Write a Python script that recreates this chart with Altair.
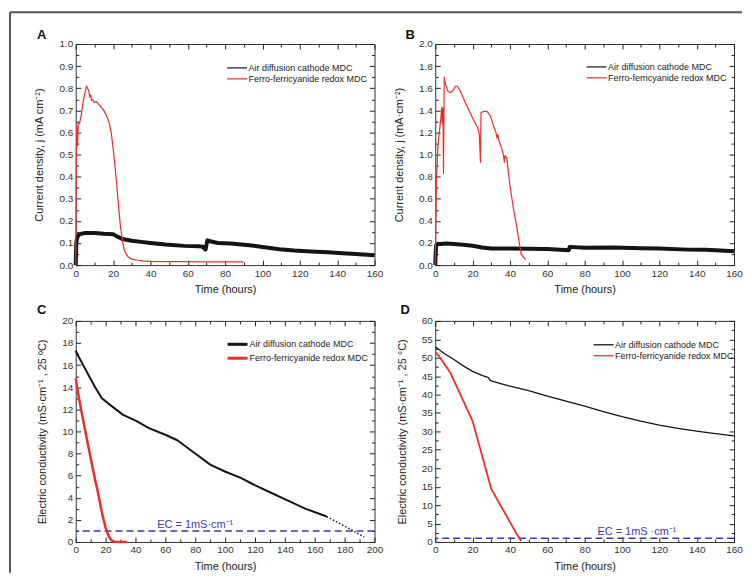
import altair as alt
import pandas as pd

FONT = "Liberation Sans, Arial, Helvetica, sans-serif"
AIR = "Air diffusion cathode MDC"
FERRO = "Ferro-ferricyanide redox MDC"
SERIES = [AIR, FERRO]
COLORS = ["#141414", "#ee2c2c"]
EC_COLOR = "#3a3ab4"

# ---------------- Panel A : current density ----------------
A_air_t = [0, 0.3, 0.8, 2, 5, 10, 15, 20, 22, 25, 30, 35, 40, 48, 58, 66, 68, 69.5, 70.5, 72, 76, 83, 93,
           100, 109, 117, 126, 135, 143, 150, 156, 160]
A_air_v = [0.0, 0.10, 0.125, 0.14, 0.145, 0.145, 0.142, 0.14, 0.13, 0.118, 0.11, 0.105, 0.10, 0.093, 0.087,
           0.085, 0.083, 0.07, 0.112, 0.108, 0.10, 0.098, 0.09, 0.082, 0.072, 0.066, 0.062, 0.058, 0.054,
           0.05, 0.047, 0.045]
A_red_t = [0, 0.3, 0.5, 0.8, 1.0, 1.3, 2, 3, 4, 5, 5.7, 6.3, 7, 7.5, 8, 8.5, 9, 10, 11, 12, 13, 14, 15, 16,
           17, 18, 19, 20, 21, 22, 23, 24, 25, 26, 27, 28, 30, 33, 36, 40, 50, 60, 70, 80, 90]
A_red_v = [0.0, 0.5, 0.63, 0.60, 0.54, 0.64, 0.64, 0.68, 0.74, 0.78, 0.81, 0.80, 0.79, 0.76, 0.77, 0.745,
           0.75, 0.735, 0.74, 0.73, 0.72, 0.71, 0.70, 0.685, 0.665, 0.64, 0.60, 0.53, 0.45, 0.36, 0.26, 0.17,
           0.11, 0.07, 0.05, 0.038, 0.027, 0.022, 0.019, 0.017, 0.016, 0.016, 0.015, 0.015, 0.015]

# ---------------- Panel B : current density ----------------
B_air_t = [0, 0.2, 0.5, 1, 3, 6, 10, 15, 20, 25, 30, 40, 50, 60, 71.5, 72, 80, 95, 110, 120, 135, 145, 155, 160]
B_air_v = [0, 0.1, 0.18, 0.19, 0.19, 0.195, 0.19, 0.185, 0.175, 0.16, 0.15, 0.15, 0.148, 0.145, 0.135,
           0.165, 0.158, 0.16, 0.152, 0.15, 0.14, 0.138, 0.13, 0.125]
B_red_t = [0, 0.3, 0.6, 1, 1.5, 2.5, 3, 3.5, 3.8, 4.0, 4.2, 4.4, 4.6, 4.8, 5.2, 5.6, 6.9, 8.3, 9.5, 10.9,
           11.8, 13.2, 15.3, 18, 20.6, 22.8, 23.6, 24.2, 24.5, 25.9, 27.7, 29.5, 31.2, 32.5, 33, 33.5, 34,
           35.3, 36.5, 37, 37.4, 38.3, 39.2, 40, 41.8, 43.6, 45, 46, 48.3]
B_red_v = [0.0, 0.4, 0.75, 0.9, 1.1, 1.25, 1.33, 1.43, 1.28, 1.42, 1.30, 0.83, 1.2, 1.70, 1.66, 1.63, 1.57,
           1.56, 1.58, 1.62, 1.62, 1.58, 1.50, 1.40, 1.31, 1.24, 1.18, 0.93, 1.38, 1.39, 1.39, 1.35, 1.26,
           1.2, 1.15, 1.18, 1.13, 1.07, 1.0, 0.93, 0.99, 0.97, 0.83, 0.72, 0.52, 0.35, 0.2, 0.1, 0.05]

# ---------------- Panel C : conductivity ----------------
C_air_t = [0, 1, 5, 9, 13, 17.5, 23, 31.7, 40.5, 49, 60, 68, 70, 80, 90, 99.5, 110.5, 119, 130, 141, 154, 168]
C_air_v = [17.3, 17.0, 16.0, 15.0, 14.0, 13.0, 12.4, 11.5, 10.95, 10.3, 9.7, 9.2, 9.0, 8.0, 7.0, 6.4, 5.8,
           5.2, 4.5, 3.8, 3.0, 2.3]
C_dot_t = [168, 186, 193]
C_dot_v = [2.3, 1.0, 0.45]
C_red_t = [0, 1, 3, 5, 7, 10, 13, 15, 17, 18.5, 20, 21, 22, 23, 24, 25, 26, 28, 31, 34]
C_red_v = [14.8, 13.9, 12.4, 11.0, 9.6, 7.6, 5.6, 4.4, 3.0, 2.1, 1.3, 0.9, 0.55, 0.3, 0.15, 0.06, 0.02,
           0.0, 0.0, 0.0]

# ---------------- Panel D : conductivity ----------------
D_air_t = [0, 5, 10, 15, 20, 25, 28.5, 29.5, 35, 40, 50, 60, 70, 80, 90, 100, 110, 120, 130, 140, 150, 160]
D_air_v = [53.0, 51.1, 49.5, 47.8, 46.3, 45.2, 44.6, 43.8, 43.0, 42.3, 41.1, 39.6, 38.2, 36.9, 35.4, 34.0,
           32.8, 31.7, 30.8, 30.1, 29.4, 28.8]
D_red_t = [0, 2, 4, 8, 12, 16, 20, 25, 30, 35, 40, 44, 46]
D_red_v = [51.5, 50.5, 49.0, 46.0, 41.6, 37.2, 32.8, 23.6, 14.4, 9.9, 5.4, 1.8, 0.3]

EC_LEVEL = [1.0]

# ---------------- axes tick lists ----------------
X160_major = [0, 20, 40, 60, 80, 100, 120, 140, 160]
X160_minor = [10, 30, 50, 70, 90, 110, 130, 150]
X200_major = [0, 20, 40, 60, 80, 100, 120, 140, 160, 180, 200]
X200_minor = [10, 30, 50, 70, 90, 110, 130, 150, 170, 190]
A_y_major = [0.0, 0.1, 0.2, 0.3, 0.4, 0.5, 0.6, 0.7, 0.8, 0.9, 1.0]
A_y_minor = [0.05, 0.15, 0.25, 0.35, 0.45, 0.55, 0.65, 0.75, 0.85, 0.95]
B_y_major = [0.0, 0.2, 0.4, 0.6, 0.8, 1.0, 1.2, 1.4, 1.6, 1.8, 2.0]
B_y_minor = [0.1, 0.3, 0.5, 0.7, 0.9, 1.1, 1.3, 1.5, 1.7, 1.9]
C_y_major = [0, 2, 4, 6, 8, 10, 12, 14, 16, 18, 20]
C_y_minor = [1, 3, 5, 7, 9, 11, 13, 15, 17, 19]
D_y_major = [0, 5, 10, 15, 20, 25, 30, 35, 40, 45, 50, 55, 60]
D_y_minor = [2.5, 7.5, 12.5, 17.5, 22.5, 27.5, 32.5, 37.5, 42.5, 47.5, 52.5, 57.5]

W, H = 300, 222
TICK = "#222222"


def axis_layers(xs, ys, xmaj, xmin, ymaj, ymin, yfmt, ytitle, xdom, ydom):
    base = alt.Chart(pd.DataFrame({"t": xdom, "v": ydom}))
    tk = dict(domain=False, grid=False, ticks=True, tickColor=TICK, tickWidth=1)
    specs = [
        (alt.Axis(orient="bottom", values=xmaj, offset=-5, tickSize=5, labelPadding=3, format="d",
                  title="Time (hours)", titlePadding=6, labelFlush=False, **tk),
         alt.Axis(orient="left", values=ymaj, offset=-5, tickSize=5, labelPadding=3, format=yfmt,
                  title=ytitle, titlePadding=14, labelFlush=False, **tk)),
        (alt.Axis(orient="bottom", values=xmin, offset=-3, tickSize=3, labels=False, title=None, **tk),
         alt.Axis(orient="left", values=ymin, offset=-3, tickSize=3, labels=False, title=None, **tk)),
        (alt.Axis(orient="top", values=xmaj, offset=-5, tickSize=5, labels=False, title=None, **tk),
         alt.Axis(orient="right", values=ymaj, offset=-5, tickSize=5, labels=False, title=None, **tk)),
        (alt.Axis(orient="top", values=xmin, offset=-3, tickSize=3, labels=False, title=None, **tk),
         alt.Axis(orient="right", values=ymin, offset=-3, tickSize=3, labels=False, title=None, **tk)),
    ]
    out = []
    for xa, ya in specs:
        out.append(base.mark_point(opacity=0, size=1).encode(
            x=alt.X("t:Q", scale=xs, axis=xa), y=alt.Y("v:Q", scale=ys, axis=ya)))
    return out


def panel(letter, letter_x, letter_y, xdom, ydom, xmaj, xmin, ymaj, ymin, yfmt, ytitle,
          lines, legend_x, legend_y, legend_sw, ec=None, frame=False):
    xs = alt.Scale(domain=xdom, nice=False, zero=False)
    ys = alt.Scale(domain=ydom, nice=False, zero=False)
    legend = alt.Legend(orient="none", legendX=legend_x, legendY=legend_y, title=None,
                        symbolType="M-2.5,0H2.5", symbolSize=64, symbolStrokeWidth=legend_sw,
                        labelFontSize=9, labelFont=FONT, labelColor="#222", labelOffset=6.5,
                        rowPadding=1, padding=0, labelLimit=300)
    layers = axis_layers(xs, ys, xmaj, xmin, ymaj, ymin, yfmt, ytitle, xdom, ydom)
    if ec is not None:
        layers.append(alt.Chart(pd.DataFrame({"v": EC_LEVEL})).mark_rule(
            color=EC_COLOR, strokeDash=[7, 4], strokeWidth=1.5).encode(
            y=alt.Y("v:Q", scale=ys, axis=None)))
        layers.append(alt.Chart(pd.DataFrame({"t": [ec[0]], "v": EC_LEVEL, "lab": [ec[1]]})).mark_text(
            color=EC_COLOR, fontSize=11, font=FONT, baseline="bottom", dy=-1).encode(
            x=alt.X("t:Q", scale=xs, axis=None), y=alt.Y("v:Q", scale=ys, axis=None), text="lab:N"))
    for t, v, name, sw, dash in lines:
        df = pd.DataFrame({"t": t, "v": v, "s": name})
        df["w"] = sw
        kw = dict(strokeJoin="round")
        if dash:
            kw["strokeDash"] = dash
        if name in SERIES:
            col = alt.Color("s:N", scale=alt.Scale(domain=SERIES, range=COLORS), legend=legend)
        else:
            col = alt.value(COLORS[0])
        layers.append(alt.Chart(df).mark_line(**kw).encode(
            x=alt.X("t:Q", scale=xs, axis=None), y=alt.Y("v:Q", scale=ys, axis=None), color=col,
            strokeWidth=alt.StrokeWidth("w:Q", scale=None)))
    layers.append(alt.Chart(pd.DataFrame({"lab": [letter]})).mark_text(
        fontSize=13, fontWeight="bold", font=FONT, align="left", baseline="alphabetic", color="#111").encode(
        x=alt.value(letter_x), y=alt.value(letter_y), text="lab:N"))
    if frame:
        one = pd.DataFrame({"a": [0]})
        layers.append(alt.Chart(one).mark_rule(color="#555", strokeWidth=2).encode(
            x=alt.value(-66), x2=alt.value(669), y=alt.value(-32)))
        layers.append(alt.Chart(one).mark_rule(color="#555", strokeWidth=2).encode(
            x=alt.value(-66), y=alt.value(-32), y2=alt.value(531)))
    return alt.layer(*layers).resolve_axis(x="independent", y="independent").properties(width=W, height=H)


pA = panel("A", -39, -5, [0, 160], [0, 1.0], X160_major, X160_minor, A_y_major, A_y_minor, ".1f",
           "Current density, j (mA cm⁻²)",
           [(A_air_t, A_air_v, AIR, 4, None), (A_red_t, A_red_v, FERRO, 1.2, None)],
           157, 19, 1.2, frame=True)
pB = panel("B", -30, -5, [0, 160], [0, 2.0], X160_major, X160_minor, B_y_major, B_y_minor, ".1f",
           "Current density, j (mA·cm⁻²)",
           [(B_air_t, B_air_v, AIR, 4, None), (B_red_t, B_red_v, FERRO, 1.2, None)],
           157, 18, 1.2)
pC = panel("C", -39, -7, [0, 200], [0, 20], X200_major, X200_minor, C_y_major, C_y_minor, "d",
           "Electric conductivity (mS·cm⁻¹ , 25 ºC)",
           [(C_air_t, C_air_v, AIR, 2.0, None), (C_dot_t, C_dot_v, "dotted", 1.5, [1.5, 2]),
            (C_red_t, C_red_v, FERRO, 2.5, None)],
           157, 18, 3, ec=(80, "EC = 1mS·cm⁻¹"))
pD = panel("D", -35, -7, [0, 160], [0, 60], X160_major, X160_minor, D_y_major, D_y_minor, "d",
           "Electric conductivity (mS·cm⁻¹ , 25 °C)",
           [(D_air_t, D_air_v, AIR, 1.3, None), (D_red_t, D_red_v, FERRO, 1.8, None)],
           164, 19, 1.3, ec=(108, "EC = 1mS ·cm⁻¹"))

chart = alt.concat(pA, pB, pC, pD, columns=2, spacing={"row": 56, "column": 61}, bounds="flush").resolve_scale(
    color="independent").resolve_legend(color="independent").properties(
    padding={"left": 0, "top": 1, "right": 0, "bottom": 0}
).configure_view(stroke="#333", strokeWidth=1).configure_axis(
    labelFont=FONT, labelFontSize=10, labelColor="#333", titleFont=FONT, titleFontSize=11,
    titleFontWeight="normal", titleColor="#222"
)

chart.save("out.html", embed_options={"renderer": "svg", "actions": False})
